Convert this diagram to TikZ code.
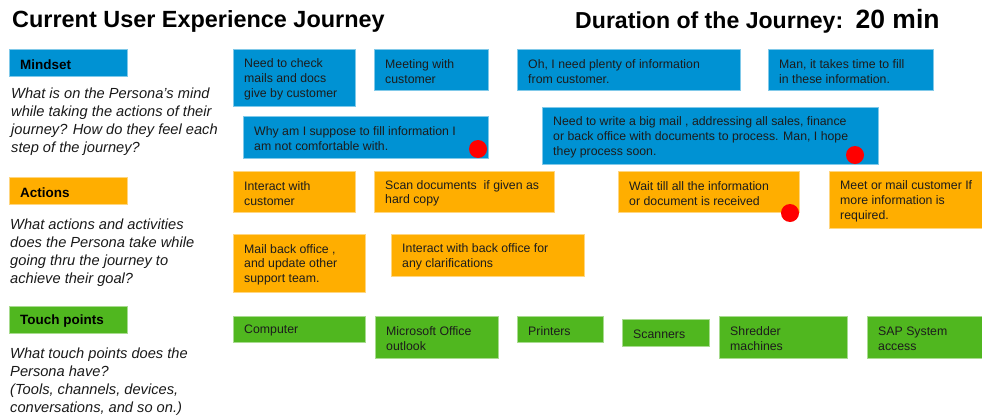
\documentclass[tikz,border=0pt]{standalone}
\usepackage{fontspec}
\setmainfont{Liberation Sans}
\usepackage{tikz}
\usetikzlibrary{positioning}
\definecolor{mindblue}{RGB}{0,146,211}
\definecolor{actorange}{RGB}{255,174,0}
\definecolor{touchgreen}{RGB}{80,183,31}
\definecolor{boxtext}{RGB}{28,28,28}

\begin{document}
\begin{tikzpicture}[x=0.03cm,y=-0.03cm,
    jbox/.style n args={3}{fill=#1,draw=#1!50!white,line width=0.5pt,anchor=north west,inner sep=0pt,minimum width=#2*0.03cm,minimum height=#3*0.03cm},
    jtext/.style={anchor=west,inner sep=0pt,align=left,yshift=-0.045cm,text=boxtext,font=\fontsize{10.5}{12.75}\selectfont},
    lbltext/.style={jtext,yshift=0cm,text=black,font=\fontsize{11.5}{13.5}\selectfont\bfseries},
    desc/.style={anchor=west,inner sep=0pt,align=left,text=black!90,font=\fontsize{12.5}{15.3}\selectfont\itshape},
    reddot/.style={circle,fill=red,inner sep=0pt,minimum size=18*0.03cm}]
    \useasboundingbox (0,0) rectangle (982,418);

    % headings
    \node[anchor=base west,inner sep=0pt,font=\fontsize{20}{24}\selectfont\bfseries] (title) at (12,27) {Current User Experience Journey};
    \node[anchor=base west,inner sep=0pt,font=\fontsize{19.7}{24}\selectfont\bfseries] (dur) at (575,28) {Duration of the Journey:};
    \node[anchor=base west,inner sep=0pt,font=\fontsize{22.6}{26}\selectfont\bfseries] (mins) at ([xshift=0.36cm]dur.base east) {20 min};

    % row labels and questions
    \node[jbox={mindblue}{118}{27}] (mindset) at (9,49) {};
    \node[lbltext,right=0.33cm of mindset.west] (mindsett) {Mindset};
    \node[desc] (mindq) at (11,122) {What is on the Persona's mind\\while taking the actions of their\\journey? How do they feel each\\step of the journey?};

    \node[jbox={actorange}{118}{27}] (actions) at (9,177) {};
    \node[lbltext,right=0.33cm of actions.west] (actionst) {Actions};
    \node[desc] (actq) at (10,253) {What actions and activities\\does the Persona take while\\going thru the journey to\\achieve their goal?};

    \node[jbox={touchgreen}{118}{27}] (touch) at (9,306) {};
    \node[lbltext,right=0.33cm of touch.west] (toucht) {Touch points};
    \node[desc] (touchq) at (10,381.5) {What touch points does the\\Persona have?\\(Tools, channels, devices,\\conversations, and so on.)};

    % mindset
    \node[jbox={mindblue}{122}{57}] (m1) at (233,49) {};
    \node[jtext,right=0.33cm of m1.west] (m1t) {Need to check\\mails and docs\\give by customer};
    \node[jbox={mindblue}{114}{41}] (m2) at (374,49) {};
    \node[jtext,right=0.33cm of m2.west] (m2t) {Meeting with\\customer};
    \node[jbox={mindblue}{223}{41}] (m3) at (517,49) {};
    \node[jtext,right=0.33cm of m3.west] (m3t) {Oh, I need plenty of information\\from customer.};
    \node[jbox={mindblue}{165}{41}] (m4) at (768,49) {};
    \node[jtext,right=0.33cm of m4.west] (m4t) {Man, it takes time to fill\\in these information.};
    \node[jbox={mindblue}{245}{42}] (m5) at (243,116) {};
    \node[jtext,right=0.33cm of m5.west] (m5t) {Why am I suppose to fill information I\\am not comfortable with.};
    \node[jbox={mindblue}{336}{57}] (m6) at (542,107) {};
    \node[jtext,right=0.33cm of m6.west] (m6t) {Need to write a big mail , addressing all sales, finance\\or back office with documents to process. Man, I hope\\they process soon.};

    % actions
    \node[jbox={actorange}{122}{41}] (a1) at (233,171) {};
    \node[jtext,right=0.33cm of a1.west] (a1t) {Interact with\\customer};
    \node[jbox={actorange}{180}{41}] (a2) at (374,171) {};
    \node[jtext,right=0.33cm of a2.west] (a2t) {Scan documents~ if given as\\hard copy};
    \node[jbox={actorange}{181}{41}] (a3) at (618,171) {};
    \node[jtext,right=0.33cm of a3.west] (a3t) {Wait till all the information\\or document is received};
    \node[jbox={actorange}{153}{57}] (a4) at (829,171) {};
    \node[jtext,right=0.33cm of a4.west] (a4t) {Meet or mail customer If\\more information is\\required.};
    \node[jbox={actorange}{132}{58}] (a5) at (233,234) {};
    \node[jtext,right=0.33cm of a5.west] (a5t) {Mail back office ,\\and update other\\support team.};
    \node[jbox={actorange}{193}{42}] (a6) at (391,234) {};
    \node[jtext,right=0.33cm of a6.west] (a6t) {Interact with back office for\\any clarifications};

    % touch points
    \node[jbox={touchgreen}{132}{26}] (t1) at (233,316) {};
    \node[jtext,right=0.33cm of t1.west] (t1t) {Computer};
    \node[jbox={touchgreen}{123}{42}] (t2) at (375,316) {};
    \node[jtext,right=0.33cm of t2.west] (t2t) {Microsoft Office\\outlook};
    \node[jbox={touchgreen}{86}{26}] (t3) at (517,316) {};
    \node[jtext,right=0.33cm of t3.west] (t3t) {Printers};
    \node[jbox={touchgreen}{87}{27}] (t4) at (622,319) {};
    \node[jtext,right=0.33cm of t4.west] (t4t) {Scanners};
    \node[jbox={touchgreen}{128}{42}] (t5) at (719,316) {};
    \node[jtext,right=0.33cm of t5.west] (t5t) {Shredder\\machines};
    \node[jbox={touchgreen}{115}{42}] (t6) at (867,316) {};
    \node[jtext,right=0.33cm of t6.west] (t6t) {SAP System\\access};

    % pain points
    \node[reddot] (d1) at (478,149) {};
    \node[reddot] (d2) at (855,155) {};
    \node[reddot] (d3) at (790,213) {};
\end{tikzpicture}
\end{document}
